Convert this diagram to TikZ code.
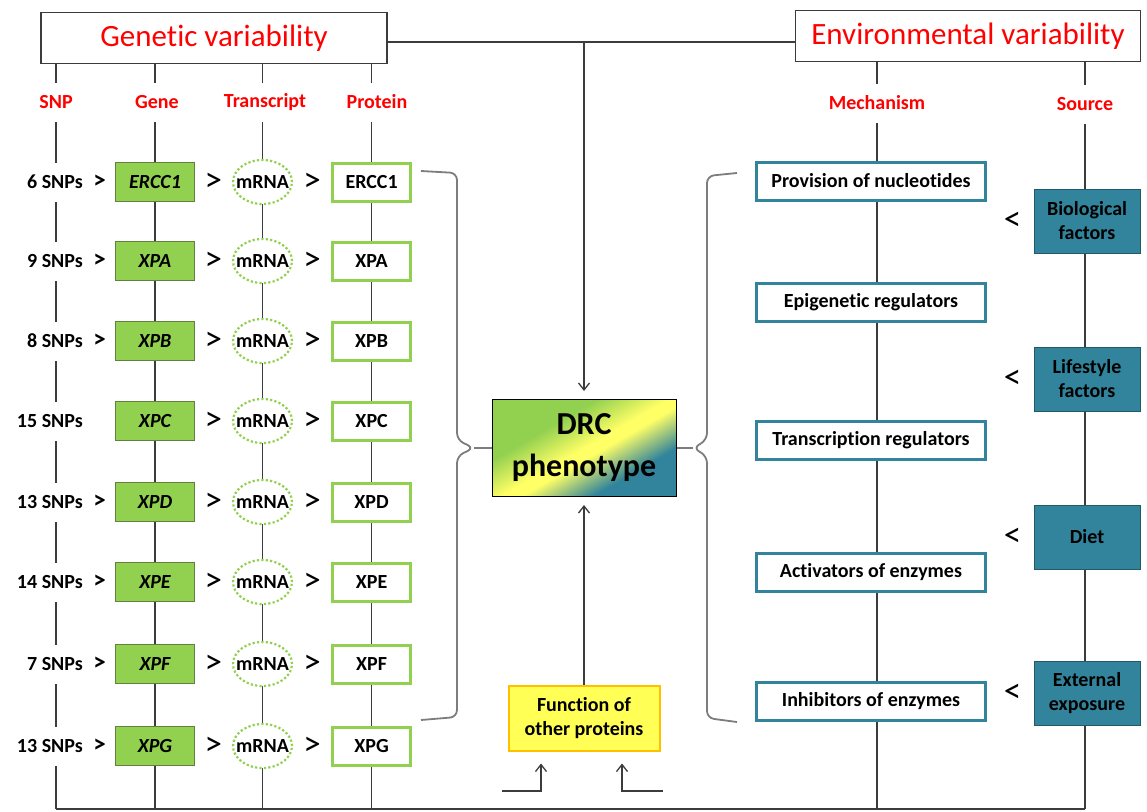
\documentclass[tikz,border=0pt]{standalone}
\usepackage{fontspec}
\setmainfont[Ligatures={NoCommon,NoContextual}]{Carlito}
\usetikzlibrary{arrows.meta, positioning, shapes.geometric, calc, backgrounds}
\definecolor{titlered}{RGB}{255,0,0}
\definecolor{genegreen}{RGB}{146,208,80}
\definecolor{geneedge}{RGB}{98,128,62}
\definecolor{envteal}{RGB}{49,132,155}
\definecolor{tealedge}{RGB}{33,89,104}
\definecolor{funcyellow}{RGB}{255,255,85}
\definecolor{funcedge}{RGB}{255,192,0}
\definecolor{linegray}{RGB}{60,60,60}
\definecolor{bracegray}{RGB}{125,125,125}
\definecolor{drcyellow}{RGB}{255,255,102}
\pgfdeclarehorizontalshading{drcshade}{100bp}{color(0bp)=(genegreen); color(36bp)=(genegreen); color(50bp)=(drcyellow); color(54bp)=(drcyellow); color(68bp)=(envteal); color(100bp)=(envteal)}

\begin{document}
\begin{tikzpicture}[x=1pt, y=-1pt,
  title/.style={draw=linegray, line width=1.2pt, fill=white,
                minimum width=346pt, minimum height=51pt,
                text=titlered, font=\fontsize{31}{36}\selectfont},
  header/.style={fill=white, text=titlered, minimum height=39pt,
                 inner xsep=2pt, font=\fontsize{20}{24}\selectfont\bfseries},
  snplabel/.style={fill=white, anchor=east, minimum height=39pt,
                   inner xsep=1pt, font=\fontsize{20}{24}\selectfont\bfseries},
  genebox/.style={draw=geneedge, line width=0.8pt, fill=genegreen,
                  minimum width=79pt, minimum height=39pt,
                  font=\fontsize{20}{24}\selectfont\bfseries\itshape},
  mrna/.style={ellipse, draw=genegreen, line width=2.2pt,
               dash pattern={on 2.2pt off 2.2pt}, fill=white,
               minimum width=59pt, minimum height=44pt, inner sep=0pt,
               font=\fontsize{20}{24}\selectfont\bfseries},
  protbox/.style={draw=genegreen, line width=3pt, fill=white,
                  minimum width=78pt, minimum height=38pt,
                  font=\fontsize{20}{24}\selectfont\bfseries},
  gtsmall/.style={inner sep=0pt, font=\fontsize{25}{28}\selectfont\bfseries},
  gtbig/.style={inner sep=0pt, font=\fontsize{35}{38}\selectfont},
  mechbox/.style={draw=envteal, line width=3pt, fill=white,
                  minimum width=229pt, minimum height=38pt,
                  font=\fontsize{20}{24}\selectfont\bfseries},
  srcbox/.style={draw=tealedge, line width=0.8pt, fill=envteal,
                 minimum width=106pt, minimum height=64pt, align=center,
                 font=\fontsize{20}{24}\selectfont\bfseries},
  drcbox/.style={draw=black, line width=1pt, shading=drcshade,
                 shading angle=-60, minimum width=184pt, minimum height=97pt,
                 align=center, font=\fontsize{32}{42}\selectfont\bfseries},
  funcbox/.style={draw=funcedge, line width=2pt, fill=funcyellow,
                  minimum width=151pt, minimum height=65pt, align=center,
                  font=\fontsize{20}{24}\selectfont\bfseries},
  line/.style={draw=linegray, line width=1.3pt},
  arrow/.style={-{Straight Barb[length=7pt, width=11pt]}, line width=1.3pt,
                draw=linegray},
  brace/.style={draw=bracegray, line width=1.8pt, rounded corners=7pt},
]
\useasboundingbox (0,0) rectangle (1147,811);

% the two sources of variability
\node[title] (genetic) at (214,38) {Genetic variability};
\node[title, minimum width=345pt] (env) at (968,36) {Environmental variability};

\node[header] (hSNP)   at (56,102)   {SNP};
\node[header] (hGene)  at (157,102)  {Gene};
\node[header] (hTrans) at (265,102)  {Transcript};
\node[header] (hProt)  at (377,102)  {Protein};
\node[header] (hMech)  at (877,103)  {Mechanism};
\node[header] (hSrc)   at (1085,104) {Source};

% genetic rows
\node[snplabel] (s1) at (84,182) {6 SNPs};
\node[genebox] (g1) at (155,182) {ERCC1};
\node[mrna, right=37pt of g1] (m1) {\makebox[0pt]{mRNA}};
\node[protbox, right=38pt of m1] (p1) {ERCC1};

\node[snplabel] (s2) at (84,261) {9 SNPs};
\node[genebox] (g2) at (155,261) {XPA};
\node[mrna, right=37pt of g2] (m2) {\makebox[0pt]{mRNA}};
\node[protbox, right=38pt of m2] (p2) {XPA};

\node[snplabel] (s3) at (84,341) {8 SNPs};
\node[genebox] (g3) at (155,341) {XPB};
\node[mrna, right=37pt of g3] (m3) {\makebox[0pt]{mRNA}};
\node[protbox, right=38pt of m3] (p3) {XPB};

\node[snplabel] (s4) at (84,421) {15 SNPs};
\node[genebox] (g4) at (155,421) {XPC};
\node[mrna, right=37pt of g4] (m4) {\makebox[0pt]{mRNA}};
\node[protbox, right=38pt of m4] (p4) {XPC};

\node[snplabel] (s5) at (84,502) {13 SNPs};
\node[genebox] (g5) at (155,502) {XPD};
\node[mrna, right=37pt of g5] (m5) {\makebox[0pt]{mRNA}};
\node[protbox, right=38pt of m5] (p5) {XPD};

\node[snplabel] (s6) at (84,582) {14 SNPs};
\node[genebox] (g6) at (155,582) {XPE};
\node[mrna, right=37pt of g6] (m6) {\makebox[0pt]{mRNA}};
\node[protbox, right=38pt of m6] (p6) {XPE};

\node[snplabel] (s7) at (84,664) {7 SNPs};
\node[genebox] (g7) at (155,664) {XPF};
\node[mrna, right=37pt of g7] (m7) {\makebox[0pt]{mRNA}};
\node[protbox, right=38pt of m7] (p7) {XPF};

\node[snplabel] (s8) at (84,746) {13 SNPs};
\node[genebox] (g8) at (155,746) {XPG};
\node[mrna, right=37pt of g8] (m8) {\makebox[0pt]{mRNA}};
\node[protbox, right=38pt of m8] (p8) {XPG};

% the > marks between the columns
\path (s1) -- node[gtsmall] (a1) {>} (g1) (g1) -- node[gtbig] (b1) {>} (m1) (m1) -- node[gtbig] (c1) {>} (p1);
\path (s2) -- node[gtsmall] (a2) {>} (g2) (g2) -- node[gtbig] (b2) {>} (m2) (m2) -- node[gtbig] (c2) {>} (p2);
\path (s3) -- node[gtsmall] (a3) {>} (g3) (g3) -- node[gtbig] (b3) {>} (m3) (m3) -- node[gtbig] (c3) {>} (p3);
\path (g4) -- node[gtbig] (b4) {>} (m4) (m4) -- node[gtbig] (c4) {>} (p4);
\path (s5) -- node[gtsmall] (a5) {>} (g5) (g5) -- node[gtbig] (b5) {>} (m5) (m5) -- node[gtbig] (c5) {>} (p5);
\path (s6) -- node[gtsmall] (a6) {>} (g6) (g6) -- node[gtbig] (b6) {>} (m6) (m6) -- node[gtbig] (c6) {>} (p6);
\path (s7) -- node[gtsmall] (a7) {>} (g7) (g7) -- node[gtbig] (b7) {>} (m7) (m7) -- node[gtbig] (c7) {>} (p7);
\path (s8) -- node[gtsmall] (a8) {>} (g8) (g8) -- node[gtbig] (b8) {>} (m8) (m8) -- node[gtbig] (c8) {>} (p8);

% environmental side
\node[mechbox] (mech1) at (871,181) {Provision of nucleotides};
\node[mechbox] (mech2) at (871,302) {Epigenetic regulators};
\node[mechbox] (mech3) at (871,440) {Transcription regulators};
\node[mechbox] (mech4) at (871,572) {Activators of enzymes};
\node[mechbox] (mech5) at (871,701) {Inhibitors of enzymes};

\node[srcbox] (src1) at (1087,221) {Biological\\factors};
\node[srcbox] (src2) at (1087,379) {Lifestyle\\factors};
\node[srcbox] (src3) at (1087,537) {Diet};
\node[srcbox] (src4) at (1087,693) {External\\exposure};

\node[gtbig, left=12pt of src1] (lt1) {<};
\node[gtbig, left=12pt of src2] (lt2) {<};
\node[gtbig, left=12pt of src3] (lt3) {<};
\node[gtbig, left=12pt of src4] (lt4) {<};

% phenotype in the middle
\node[drcbox] (drc) at (584,448) {DRC\\phenotype};
\node[funcbox] (func) at (584,718) {Function of\\other proteins};

\coordinate (join) at (584,42);
\coordinate (ltip) at (474,448);
\coordinate (rtip) at (693,448);
\coordinate (inL) at (502,791);
\coordinate (inR) at (663,791);

\draw[line] (genetic.east |- join) -- (env.west |- join);
\draw[arrow, shorten >=8pt] (join) -- (drc);
\draw[arrow, shorten >=8pt] (func) -- (drc);
\draw[arrow, shorten >=12pt] (inL) -| ([xshift=-43pt]func.south);
\draw[arrow, shorten >=12pt] (inR) -| ([xshift=38pt]func.south);

\draw[brace] (421,171) -- (457,173) -- (457,440) -- (ltip) -- (457,456) -- (457,717) -- (421,720);
\draw[brace] (ltip) -- (drc.west);
\draw[brace] (737,173) -- (707,176) -- (707,440) -- (rtip) -- (707,456) -- (707,718) -- (737,722);
\draw[brace] (rtip) -- (drc.east);

\begin{scope}[on background layer]
\coordinate (bottom) at (0,809);
\draw[line] (hSNP |- genetic.south) -- (hSNP |- bottom);
\draw[line] (g1 |- genetic.south) -- (g1 |- bottom);
\draw[line] (m1 |- genetic.south) -- (m1 |- bottom);
\draw[line] (p1 |- genetic.south) -- (p1 |- bottom);
\draw[line] (hMech |- env.south) -- (hMech |- bottom);
\draw[line] (hSrc |- env.south) -- (hSrc |- bottom);
\draw[line] (hSNP |- bottom) -- (hSrc |- bottom);
\end{scope}
\end{tikzpicture}
\end{document}
